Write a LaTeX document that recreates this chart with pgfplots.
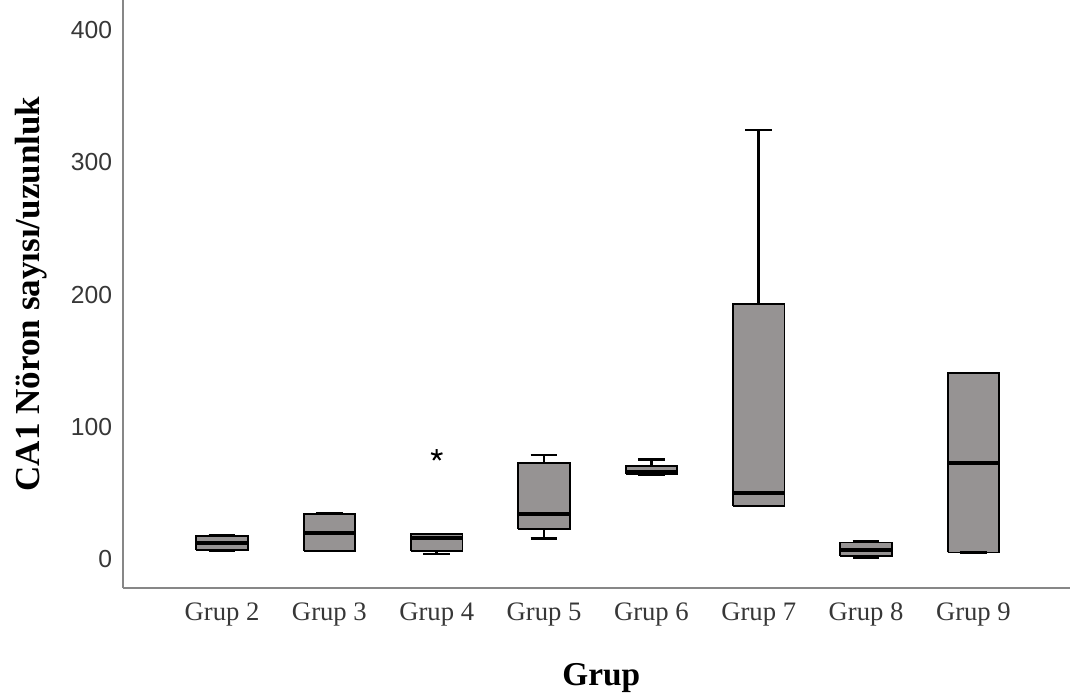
\documentclass[border=0pt]{standalone}
\usepackage{fontspec}
\setmainfont{Liberation Serif}
\newfontfamily\numfont{Liberation Sans}
\usepackage{pgfplots}
\pgfplotsset{compat=1.18}
\definecolor{boxgray}{RGB}{150,147,147}
\definecolor{axgray}{RGB}{135,135,135}
\definecolor{lblgray}{RGB}{55,55,55}

% position, lower whisker, Q1, median, Q3, upper whisker
\newcommand{\bx}[6]{%
  \pgfmathsetmacro\bxL{#1-0.24}\pgfmathsetmacro\bxR{#1+0.24}%
  \pgfmathsetmacro\bxCL{#1-0.125}\pgfmathsetmacro\bxCR{#1+0.125}%
  \addplot[black, line width=2pt] coordinates {(#1,#2) (#1,#3)};
  \addplot[black, line width=2pt] coordinates {(#1,#5) (#1,#6)};
  \addplot[draw=black, fill=boxgray, line width=1.3pt, line join=miter] coordinates {(\bxL,#3) (\bxR,#3) (\bxR,#5) (\bxL,#5) (\bxL,#3)};
  \addplot[black, line width=3pt] coordinates {(\bxL,#4) (\bxR,#4)};
  \addplot[black, line width=2pt] coordinates {(\bxCL,#2) (\bxCR,#2)};
  \addplot[black, line width=2pt] coordinates {(\bxCL,#6) (\bxCR,#6)};
}

\begin{document}
\begin{tikzpicture}
\begin{axis}[
  name=ax,
  scale only axis,
  width=710.25pt, height=441pt,
  xmin=1.077, xmax=9.90,
  ymin=-21.9, ymax=422.7,
  axis x line*=bottom, axis y line*=left,
  axis line style={axgray, line width=1.1pt},
  tick style={draw=none},
  xtick={2,3,4,5,6,7,8,9},
  xticklabels={Grup 2,Grup 3,Grup 4,Grup 5,Grup 6,Grup 7,Grup 8,Grup 9},
  ytick={0,100,200,300,400},
  /pgf/number format/assume math mode=true,
  yticklabel style={font=\numfont\fontsize{18.5}{20}\selectfont, text=lblgray, inner sep=0pt, anchor=east, xshift=-8pt},
  xticklabel style={font=\fontsize{20}{22}\selectfont, text=lblgray, inner sep=0pt, anchor=north, yshift=-11pt},
  xlabel={Grup},
  ylabel={CA1 Nöron sayısı/uzunluk},
  xlabel style={font=\bfseries\fontsize{25}{28}\selectfont, at={(rel axis cs:0.505,-0.1276)}, anchor=north, inner sep=0pt},
  ylabel style={font=\bfseries\fontsize{26.3}{29}\selectfont, at={(rel axis cs:-0.0971,0.5)}, anchor=center, inner sep=0pt},
]
\bx{2}{6}{6.8}{11.9}{17.4}{18.1}
\bx{3}{6}{6.2}{19.9}{34}{34.5}
\bx{4}{3.8}{6.3}{15.6}{18.7}{19}
\bx{5}{15.6}{22.7}{33.8}{72.8}{78.6}
\bx{6}{64}{64.3}{65.5}{70.6}{75.4}
\bx{7}{40}{40.1}{50.2}{192.8}{324.5}
\bx{8}{1.3}{2.3}{6.8}{12.6}{13.4}
\bx{9}{5}{5}{72.8}{140.4}{140.6}
% outlier
\addplot[only marks, mark=star, mark size=4.5pt, mark options={black, line width=1.5pt}] coordinates {(4,78.6)};
\end{axis}
\pgfresetboundingbox
\path (ax.south west) ++(-92.25pt,-82.5pt) coordinate (bl);
\path (bl) rectangle (ax.north east);
\end{tikzpicture}
\end{document}
